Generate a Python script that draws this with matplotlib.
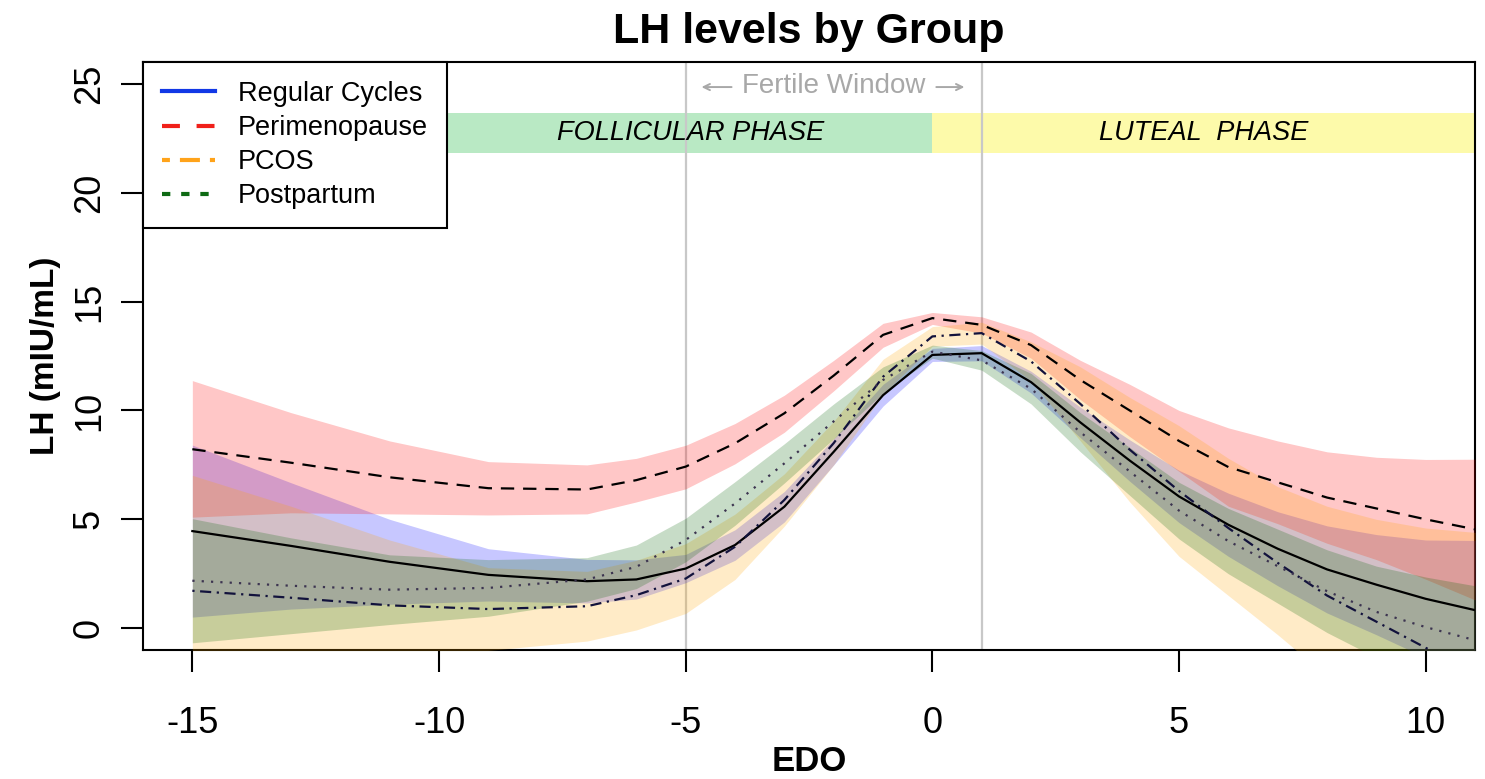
import matplotlib.pyplot as plt

plt.rcParams['font.family'] = ['Liberation Sans', 'DejaVu Sans']
plt.rcParams['axes.unicode_minus'] = False

# days relative to estimated day of ovulation
edo = [-15, -13, -11, -9, -7, -6, -5, -4, -3, -2, -1, 0, 1, 2, 3, 4, 5, 6, 7, 8, 9, 10, 11]

# Regular cycles
reg_mean = [4.46, 3.78, 3.05, 2.45, 2.16, 2.24, 2.74, 3.82, 5.58, 8.1, 10.7, 12.55, 12.63,
            11.3, 9.45, 7.7, 6.05, 4.75, 3.65, 2.7, 2.0, 1.35, 0.83]
reg_hi = [8.41, 6.68, 5.0, 3.65, 3.16, 3.14, 3.39, 4.52, 6.28, 8.7, 11.2, 12.85, 12.98,
          11.8, 10.15, 8.65, 7.25, 6.2, 5.35, 4.7, 4.3, 4.05, 4.03]
reg_lo = [0.51, 0.88, 1.1, 1.25, 1.16, 1.34, 2.09, 3.12, 4.88, 7.5, 10.2, 12.25, 12.28,
          10.8, 8.75, 6.75, 4.85, 3.3, 1.95, 0.7, -0.3, -1.35, -2.37]

# Perimenopause
peri_mean = [8.22, 7.6, 6.93, 6.43, 6.37, 6.8, 7.42, 8.49, 9.87, 11.6, 13.47, 14.24, 13.93,
             13.0, 11.4, 10.0, 8.6, 7.4, 6.7, 6.0, 5.5, 5.0, 4.54]
peri_hi = [11.37, 9.9, 8.6, 7.65, 7.5, 7.8, 8.4, 9.4, 10.7, 12.3, 14.0, 14.5, 14.3,
           13.6, 12.3, 11.2, 10.0, 9.2, 8.6, 8.1, 7.85, 7.75, 7.76]
peri_lo = [5.1, 5.3, 5.25, 5.2, 5.25, 5.8, 6.4, 7.55, 9.0, 10.9, 12.9, 13.95, 13.55,
           12.4, 10.5, 8.8, 7.2, 5.6, 4.8, 3.9, 3.15, 2.25, 1.3]

# PCOS
pcos_mean = [1.72, 1.4, 1.05, 0.88, 1.01, 1.52, 2.28, 3.74, 5.89, 8.5, 11.55, 13.4, 13.55,
             12.25, 10.3, 8.2, 6.3, 4.6, 3.0, 1.5, 0.3, -0.9, -2.0]
pcos_hi = [7.02, 5.6, 4.05, 2.78, 2.61, 3.12, 3.88, 5.24, 7.09, 9.5, 12.35, 13.85, 14.05,
           13.15, 12.0, 10.6, 9.3, 7.8, 6.5, 5.6, 5.0, 4.6, 4.4]
pcos_lo = [-3.58, -2.8, -1.95, -1.02, -0.59, -0.08, 0.68, 2.24, 4.69, 7.5, 10.75, 12.95, 13.05,
           11.35, 8.6, 5.8, 3.3, 1.5, -0.3, -2.2, -4.3, -6.3, -8.4]

# Postpartum
post_mean = [2.18, 1.95, 1.77, 1.85, 2.24, 2.82, 4.05, 5.73, 7.57, 9.5, 11.4, 12.7, 12.3,
             11.0, 9.0, 7.2, 5.4, 4.0, 2.85, 1.7, 0.75, 0.05, -0.55]
post_hi = [5.03, 4.15, 3.37, 3.15, 3.24, 3.82, 5.05, 6.73, 8.47, 10.3, 12.0, 13.0, 12.75,
           11.7, 9.9, 8.3, 6.7, 5.5, 4.55, 3.6, 2.85, 2.35, 1.95]
post_lo = [-0.67, -0.25, 0.17, 0.55, 1.24, 1.82, 3.05, 4.73, 6.67, 8.7, 10.8, 12.4, 11.85,
           10.3, 8.1, 6.1, 4.1, 2.5, 1.15, -0.2, -1.35, -2.25, -3.05]

groups = ['Regular Cycles', 'Perimenopause', 'PCOS', 'Postpartum']
band_cols = [(0, 0, 1, 0.22), (1, 0, 0, 0.22), (1, 0.65, 0, 0.22), (0, 0.39, 0, 0.22)]
leg_cols = ['#1238e6', '#f0201a', '#ffa31a', '#0e6a14']
line_cols = ['black', 'black', '#12123c', '#3c3450']
styles = ['-', (0, (6, 4)), (0, (1, 2.5, 5, 2.5)), (0, (1, 3.2))]
leg_styles = ['-', (0, (4.3, 4.0)), (0, (1.9, 2.4, 4.8, 2.4)), (0, (2.0, 2.6))]

means = [reg_mean, peri_mean, pcos_mean, post_mean]
his = [reg_hi, peri_hi, pcos_hi, post_hi]
los = [reg_lo, peri_lo, pcos_lo, post_lo]

fig = plt.figure(figsize=(14.85, 7.79), dpi=100)
ax = fig.add_axes([0.0963, 0.1656, 0.897, 0.7548])
ax.set_xlim(-16, 11)
ax.set_ylim(-1, 26)

# phase bars
ax.axvspan(-16, 0, ymin=(21.84 + 1) / 27, ymax=(23.68 + 1) / 27, color='#b9e9c4', lw=0, zorder=1)
ax.axvspan(0, 11, ymin=(21.84 + 1) / 27, ymax=(23.68 + 1) / 27, color='#fdfaaa', lw=0, zorder=1)
ax.text(-4.9, 22.76, 'FOLLICULAR PHASE', style='italic', fontsize=19.5, ha='center', va='center', zorder=2)
ax.text(5.5, 22.76, 'LUTEAL  PHASE', style='italic', fontsize=19.5, ha='center', va='center', zorder=2)

# fertile window
for xv in (-5, 1):
    ax.axvline(xv, color='#c8c8c8', lw=1.6, zorder=1.5)
ax.text(-2, 24.9, 'Fertile Window', color='#a8a8a8', fontsize=20, ha='center', va='center')
grey_arrow = dict(arrowstyle='->, head_length=0.45, head_width=0.22', color='#a8a8a8', lw=1.4,
                  shrinkA=0, shrinkB=0)
ax.annotate('', xy=(-4.68, 24.85), xytext=(-4.07, 24.85), arrowprops=grey_arrow)
ax.annotate('', xy=(0.65, 24.85), xytext=(0.08, 24.85), arrowprops=grey_arrow)

for i in range(4):
    ax.fill_between(edo, los[i], his[i], color=band_cols[i], lw=0, zorder=3)
for i in range(4):
    ax.plot(edo, means[i], color=line_cols[i], ls=styles[i], lw=1.6, zorder=4)

# legend uses the group colours
handles = [plt.Line2D([], [], color=leg_cols[i], ls=leg_styles[i], lw=3) for i in range(4)]
leg = ax.legend(handles, groups, loc='upper left', fontsize=19.5, frameon=True, fancybox=False,
                framealpha=1, borderaxespad=0, borderpad=0.7, labelspacing=0.3,
                handlelength=1.95, handletextpad=0.85)
leg.get_frame().set_edgecolor('black')
leg.get_frame().set_linewidth(1.5)
leg.set_zorder(6)

ax.set_xticks([-15, -10, -5, 0, 5, 10])
ax.set_yticks([0, 5, 10, 15, 20, 25])
ax.set_yticklabels(['0', '5', '10', '15', '20', '25'], rotation=90, va='center')
ax.tick_params(axis='both', labelsize=26, length=16, width=1.5, direction='out')
ax.tick_params(axis='x', pad=24)
ax.tick_params(axis='y', pad=10)
for s in ax.spines.values():
    s.set_linewidth(1.5)

ax.set_title('LH levels by Group', fontsize=31, fontweight='bold', pad=14)
ax.set_xlabel('EDO', fontsize=25, fontweight='bold', labelpad=3)
ax.set_ylabel('LH (mIU/mL)', fontsize=24, fontweight='bold', labelpad=8)

fig.savefig('out.png', dpi=100)
